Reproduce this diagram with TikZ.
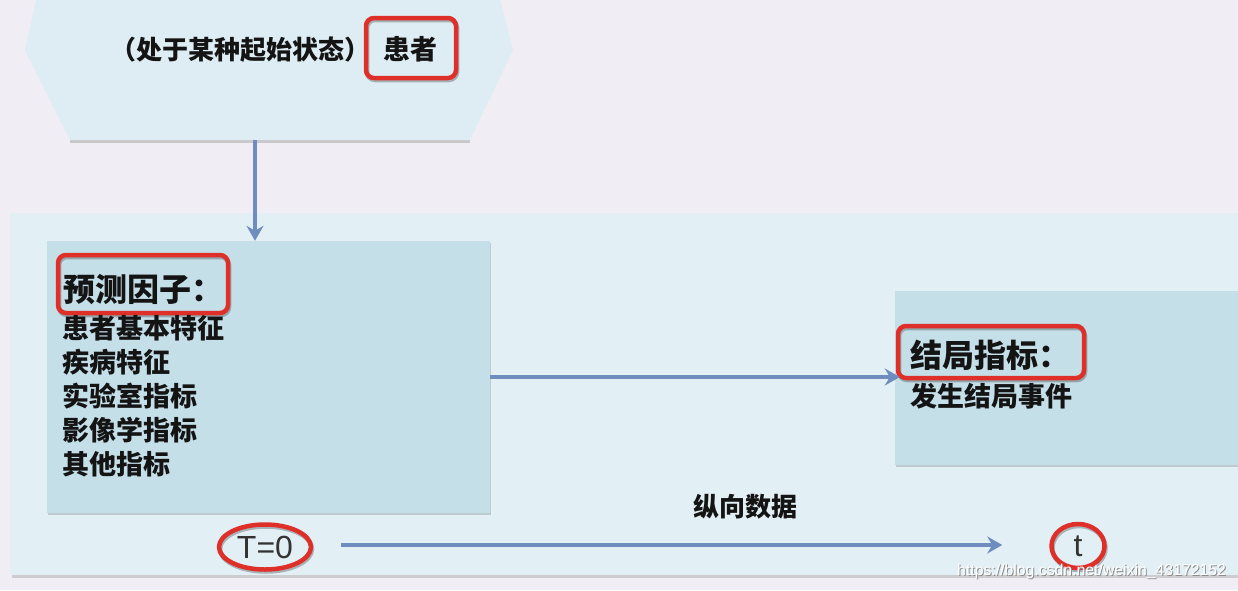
\documentclass[tikz,border=0pt]{standalone}
\usepackage{fontspec}
\setmainfont{Liberation Sans}
\newfontfamily\cjk{Noto Sans CJK SC}
\usetikzlibrary{arrows.meta,shapes.geometric,shadows}
\definecolor{bgc}{RGB}{240,238,244}
\definecolor{hexc}{RGB}{222,237,243}
\definecolor{panelc}{RGB}{226,239,245}
\definecolor{boxc}{RGB}{197,223,233}
\definecolor{arrc}{RGB}{110,140,190}
\definecolor{redc}{RGB}{222,48,40}
\definecolor{txtc}{RGB}{20,20,20}
\tikzset{
  boxstyle/.style={fill=boxc, draw=none, inner sep=0pt, drop shadow={shadow xshift=1pt, shadow yshift=-2pt, fill=black, opacity=0.15}},
  arr/.style={draw=arrc, line width=4pt, -{Stealth[length=15pt,width=17pt,inset=5pt]}},
  redshadow/.style={preaction={draw=black, opacity=0.25, transform canvas={shift={(1pt,-2pt)}}}},
  redbox/.style={draw=redc, line width=4.5pt, rounded corners=8pt, inner sep=0pt, redshadow},
  redell/.style={ellipse, draw=redc, line width=4.5pt, inner sep=0pt, redshadow},
  cn/.style={font=\cjk\bfseries\fontsize{#1}{#1}\selectfont, text=txtc, inner sep=0pt, anchor=west},
}
\begin{document}
\begin{tikzpicture}[x=1pt,y=-1pt]
\useasboundingbox (0,0) rectangle (1238,590);
\begin{scope}
\clip (0,0) rectangle (1238,590);
\fill[bgc] (0,0) rectangle (1238,590);
% hexagon
\coordinate (hl) at (25,50);
\coordinate (hbl) at (70,140);
\coordinate (hbr) at (470,140);
\coordinate (hr) at (513,50);
\coordinate (htl) at (45,-40);
\coordinate (htr) at (490,-40);
\fill[black!40, opacity=0.45] (70,140) -- (470,140) -- (470,143) -- (70,143) -- cycle;
\fill[hexc] (htl) -- (hl) -- (hbl) -- (hbr) -- (hr) -- (htr) -- cycle;
\coordinate (hexb) at (255,140);
% panel
\fill[black!30, opacity=0.55] (12,575) rectangle (1238,578);
\fill[panelc] (10,213) rectangle (1238,575);
% boxes
\node[boxstyle, minimum width=443pt, minimum height=272pt] (pred) at (268.5,377) {};
\node[boxstyle, minimum width=360pt, minimum height=174pt] (out) at (1075,378) {};
% texts
\node[cn=26] (start) at (110,50) {（处于某种起始状态）};
\node[cn=27] (pat) at (383,49) {患者};
\node[redbox, minimum width=90pt, minimum height=60pt] (patbox) at (411,48) {};
\node[cn=32] (predt) at (63,290) {预测因子：};
\node[redbox, minimum width=170pt, minimum height=58pt] (predbox) at (143,284) {};
\node[cn=27] (l1) at (62,328) {患者基本特征};
\node[cn=27] (l2) at (62,362) {疾病特征};
\node[cn=27] (l3) at (62,396) {实验室指标};
\node[cn=27] (l4) at (62,430) {影像学指标};
\node[cn=27] (l5) at (62,464) {其他指标};
\node[cn=32] (outt) at (910,355) {结局指标：};
\node[redbox, minimum width=186pt, minimum height=52pt] (outbox) at (991,352) {};
\node[cn=27] (o1) at (910,396) {发生结局事件};
\node[cn=26] (long) at (693,507) {纵向数据};
% time labels
\node[redell, minimum width=92pt, minimum height=45pt, font=\fontsize{32}{32}\selectfont, text=black!80] (t0) at (265,547) {T=0};
\node[redell, minimum width=53pt, minimum height=44pt, font=\fontsize{32}{32}\selectfont, text=black!80] (t1) at (1078,546) {t};
% arrows
\draw[arr] (hexb) -- (hexb |- pred.north);
\draw[arr] (pred.east) -- ([xshift=5pt]out.west |- pred.east);
\draw[arr, shorten <=28pt, shorten >=47pt] (t0.east |- 0,545) -- (t1.west |- 0,545);
% watermark
\node[font=\fontsize{15.8}{15.8}\selectfont, text=black!45, anchor=west, inner sep=0pt] at (958,572) {https://blog.csdn.net/weixin\_43172152};
\node[font=\fontsize{15.8}{15.8}\selectfont, text=white, anchor=west, inner sep=0pt] (wm) at (957,571) {https://blog.csdn.net/weixin\_43172152};
\end{scope}
\end{tikzpicture}
\end{document}
